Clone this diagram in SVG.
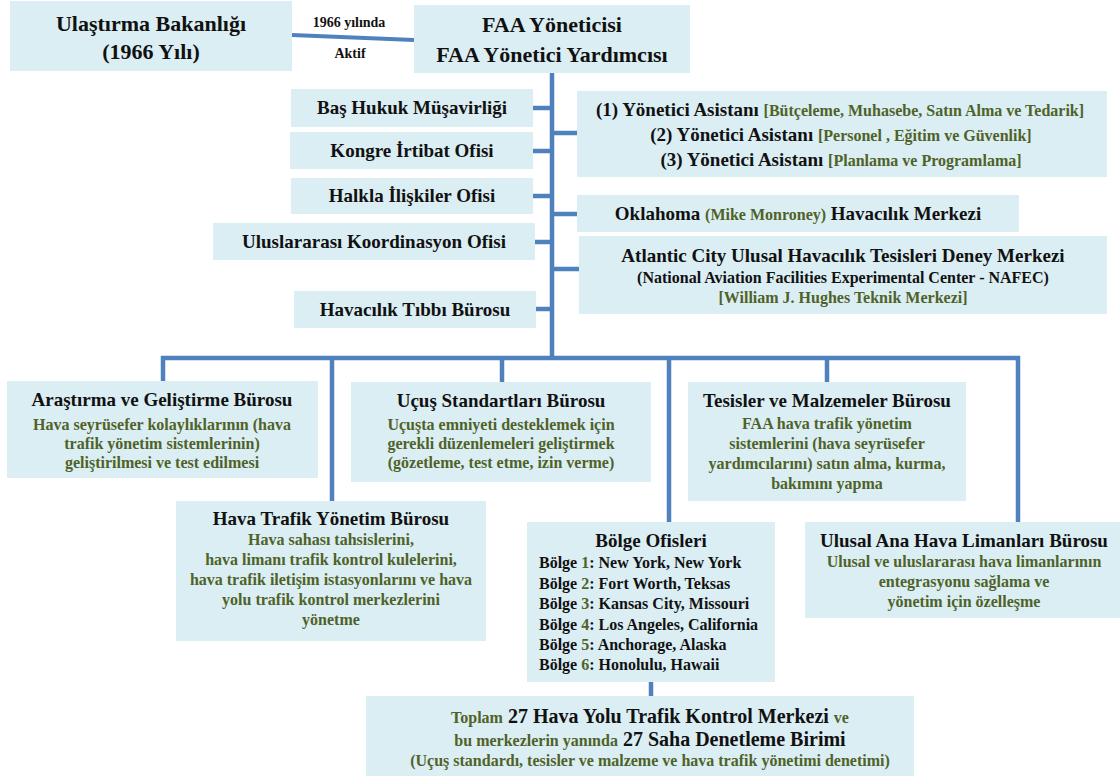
<svg xmlns="http://www.w3.org/2000/svg" width="1120" height="777" viewBox="0 0 1120 777">
<style>
.box{fill:#DBEEF4;}
.t{font-family:"Liberation Serif","Times New Roman",serif;font-weight:bold;fill:#111;text-anchor:middle;}
.g{fill:#4F6228;}
.k{fill:#111;}
.s22{font-size:22px;}
.s20{font-size:20px;}
.s19{font-size:19px;}
.s16{font-size:16px;}
.s15{font-size:15px;}
.s14{font-size:14px;}
.conn line{stroke:#4F81BD;stroke-width:4.5;fill:none;}
</style>
<rect width="1120" height="777" fill="#ffffff"/>

<g id="connectors" class="conn">
  <line x1="292" y1="35" x2="414" y2="40" style="stroke-width:4"/>
  <line x1="552" y1="73" x2="552" y2="360"/>
  <line x1="533" y1="108" x2="552" y2="108"/>
  <line x1="533" y1="151" x2="552" y2="151"/>
  <line x1="533" y1="196" x2="552" y2="196"/>
  <line x1="535" y1="242" x2="552" y2="242"/>
  <line x1="536" y1="309" x2="552" y2="309"/>
  <line x1="552" y1="133" x2="577" y2="133"/>
  <line x1="552" y1="214" x2="577" y2="214"/>
  <line x1="552" y1="269" x2="579" y2="269"/>
  <line x1="161" y1="358" x2="1020" y2="358"/>
  <line x1="163" y1="356" x2="163" y2="381"/>
  <line x1="332" y1="356" x2="332" y2="501"/>
  <line x1="502" y1="356" x2="502" y2="382"/>
  <line x1="669" y1="356" x2="669" y2="522"/>
  <line x1="827" y1="356" x2="827" y2="382"/>
  <line x1="1018" y1="356" x2="1018" y2="522"/>
  <line x1="651" y1="682" x2="651" y2="696"/>
</g>
<g id="edge-labels">
  <text class="t s14" x="349" y="27">1966 yılında</text>
  <text class="t s14" x="350" y="58">Aktif</text>
</g>

<g id="ulastirma">
  <rect class="box" x="10" y="1" width="282" height="70"/>
  <text class="t s22" x="151" y="31">Ulaştırma  Bakanlığı</text>
  <text class="t s22" x="151" y="59">(1966 Yılı)</text>
</g>
<g id="faa">
  <rect class="box" x="414" y="5" width="276" height="68"/>
  <text class="t s22" x="552" y="32">FAA Yöneticisi</text>
  <text class="t s22" x="552" y="62">FAA Yönetici Yardımcısı</text>
</g>

<g id="bas-hukuk">
  <rect class="box" x="291" y="89" width="242" height="38"/>
  <text class="t s19" x="412" y="114">Baş Hukuk Müşavirliği</text>
</g>
<g id="kongre">
  <rect class="box" x="290" y="132" width="243" height="37"/>
  <text class="t s19" x="412" y="157">Kongre İrtibat Ofisi</text>
</g>
<g id="halkla">
  <rect class="box" x="291" y="178" width="242" height="36"/>
  <text class="t s19" x="412" y="202">Halkla  İlişkiler Ofisi</text>
</g>
<g id="uluslararasi">
  <rect class="box" x="213" y="223" width="322" height="37"/>
  <text class="t s19" x="374" y="248">Uluslararası Koordinasyon Ofisi</text>
</g>
<g id="tibbi">
  <rect class="box" x="294" y="291" width="242" height="37"/>
  <text class="t s19" x="415" y="316">Havacılık Tıbbı Bürosu</text>
</g>

<g id="asistanlar">
  <rect class="box" x="577" y="91" width="530" height="86"/>
  <text class="t s19" x="840" y="116">(1)  Yönetici Asistanı <tspan class="g s16">[Bütçeleme, Muhasebe, Satın Alma ve Tedarik]</tspan></text>
  <text class="t s19" x="841" y="141">(2) Yönetici Asistanı <tspan class="g s16">[Personel , Eğitim ve Güvenlik]</tspan></text>
  <text class="t s19" x="841" y="166">(3) Yönetici Asistanı <tspan class="g s16">[Planlama ve Programlama]</tspan></text>
</g>
<g id="oklahoma">
  <rect class="box" x="577" y="195" width="442" height="37"/>
  <text class="t s19" x="798" y="220">Oklahoma <tspan class="g s16">(Mike Monroney)</tspan> Havacılık  Merkezi</text>
</g>
<g id="atlantic">
  <rect class="box" x="579" y="236" width="528" height="78"/>
  <text class="t s19" x="843" y="262">Atlantic City Ulusal Havacılık Tesisleri Deney Merkezi</text>
  <text class="t s16" x="843" y="283">(National Aviation Facilities Experimental Center - NAFEC)</text>
  <text class="t s16 g" x="843" y="303">[William  J. Hughes Teknik Merkezi]</text>
</g>

<g id="arastirma">
  <rect class="box" x="7" y="381" width="311" height="97"/>
  <text class="t s19" x="162" y="406">Araştırma ve Geliştirme Bürosu</text>
  <text class="t s16 g" x="162" y="430">Hava seyrüsefer kolaylıklarının  (hava</text>
  <text class="t s16 g" x="162" y="449">trafik yönetim sistemlerinin)</text>
  <text class="t s16 g" x="162" y="468">geliştirilmesi  ve test edilmesi</text>
</g>
<g id="ucus">
  <rect class="box" x="351" y="382" width="300" height="100"/>
  <text class="t s19" x="501" y="407">Uçuş Standartları Bürosu</text>
  <text class="t s16 g" x="501" y="430">Uçuşta emniyeti desteklemek için</text>
  <text class="t s16 g" x="501" y="449">gerekli düzenlemeleri geliştirmek</text>
  <text class="t s16 g" x="501" y="468">(gözetleme, test etme, izin  verme)</text>
</g>
<g id="tesisler">
  <rect class="box" x="688" y="382" width="278" height="119"/>
  <text class="t s19" x="827" y="407">Tesisler ve Malzemeler Bürosu</text>
  <text class="t s16 g" x="827" y="429">FAA hava trafik yönetim</text>
  <text class="t s16 g" x="827" y="449">sistemlerini  (hava seyrüsefer</text>
  <text class="t s16 g" x="827" y="469">yardımcılarını)  satın alma, kurma,</text>
  <text class="t s16 g" x="827" y="489">bakımını  yapma</text>
</g>
<g id="hava-trafik">
  <rect class="box" x="176" y="501" width="310" height="140"/>
  <text class="t s19" x="331" y="525">Hava  Trafik Yönetim Bürosu</text>
  <text class="t s16 g" x="331" y="545">Hava sahası tahsislerini,</text>
  <text class="t s16 g" x="331" y="565">hava limanı trafik kontrol kulelerini,</text>
  <text class="t s16 g" x="331" y="585">hava trafik iletişim istasyonlarını ve hava</text>
  <text class="t s16 g" x="331" y="605">yolu trafik kontrol merkezlerini</text>
  <text class="t s16 g" x="331" y="625">yönetme</text>
</g>
<g id="bolge">
  <rect class="box" x="527" y="522" width="248" height="160"/>
  <text class="t s19" x="651" y="547">Bölge Ofisleri</text>
  <g class="t s16" style="text-anchor:start">
    <text x="539" y="568">Bölge <tspan class="g">1</tspan>:  New York, New York</text>
    <text x="539" y="589">Bölge <tspan class="g">2</tspan>: Fort Worth,  Teksas</text>
    <text x="539" y="609">Bölge <tspan class="g">3</tspan>: Kansas City,  Missouri</text>
    <text x="539" y="630">Bölge <tspan class="g">4</tspan>: Los Angeles, California</text>
    <text x="539" y="650">Bölge <tspan class="g">5</tspan>: Anchorage, Alaska</text>
    <text x="539" y="670">Bölge <tspan class="g">6</tspan>: Honolulu,  Hawaii</text>
  </g>
</g>
<g id="ulusal-ana">
  <rect class="box" x="805" y="522" width="315" height="96"/>
  <text class="t s19" x="964" y="547">Ulusal Ana Hava  Limanları Bürosu</text>
  <text class="t s16 g" x="964" y="567">Ulusal  ve uluslararası  hava limanlarının</text>
  <text class="t s16 g" x="964" y="587">entegrasyonu sağlama ve</text>
  <text class="t s16 g" x="964" y="607">yönetim için  özelleşme</text>
</g>
<g id="toplam">
  <rect class="box" x="366" y="696" width="548" height="80"/>
  <text class="t s20" x="650" y="723"><tspan class="g s16">Toplam</tspan> 27 Hava Yolu Trafik Kontrol Merkezi  <tspan class="g s16">ve</tspan></text>
  <text class="t s20" x="650" y="746"><tspan class="g s16">bu merkezlerin  yanında</tspan> 27 Saha Denetleme Birimi</text>
  <text class="t s16 g" x="650" y="766">(Uçuş standardı,  tesisler ve malzeme ve hava trafik  yönetimi denetimi)</text>
</g>
</svg>
